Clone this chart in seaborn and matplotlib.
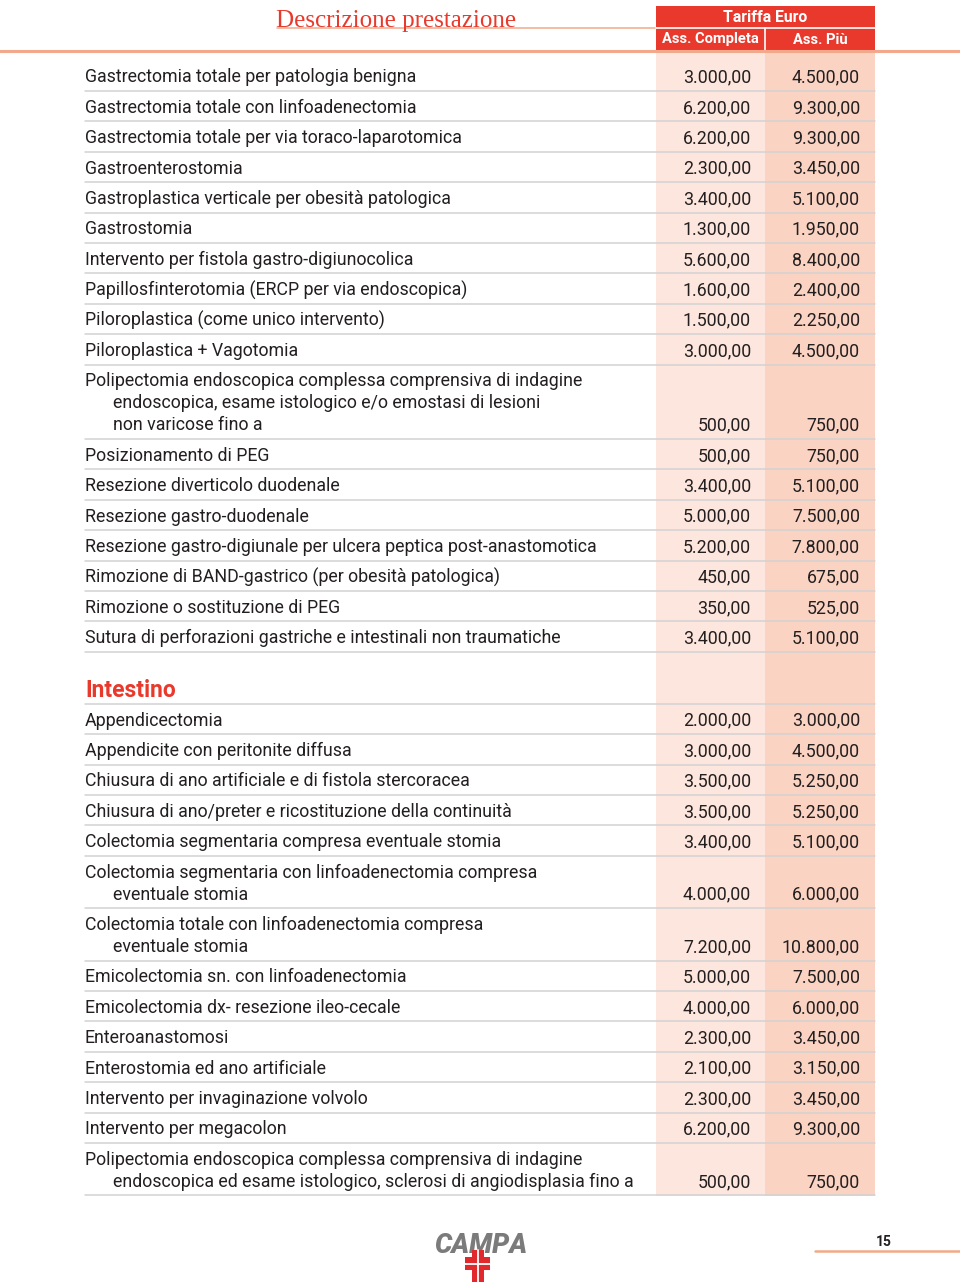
import seaborn as sns
import matplotlib.pyplot as plt
from matplotlib.patches import Rectangle

# ---- data ----
stomaco_desc = [
    "Gastrectomia totale per patologia benigna",
    "Gastrectomia totale con linfoadenectomia",
    "Gastrectomia totale per via toraco-laparotomica",
    "Gastroenterostomia",
    "Gastroplastica verticale per obesità patologica",
    "Gastrostomia",
    "Intervento per fistola gastro-digiunocolica",
    "Papillosfinterotomia (ERCP per via endoscopica)",
    "Piloroplastica (come unico intervento)",
    "Piloroplastica + Vagotomia",
    "Polipectomia endoscopica complessa comprensiva di indagine\n"
    "endoscopica, esame istologico e/o emostasi di lesioni\n"
    "non varicose fino a",
    "Posizionamento di PEG",
    "Resezione diverticolo duodenale",
    "Resezione gastro-duodenale",
    "Resezione gastro-digiunale per ulcera peptica post-anastomotica",
    "Rimozione di BAND-gastrico (per obesità patologica)",
    "Rimozione o sostituzione di PEG",
    "Sutura di perforazioni gastriche e intestinali non traumatiche",
]
stomaco_completa = [3000, 6200, 6200, 2300, 3400, 1300, 5600, 1600, 1500, 3000,
                    500, 500, 3400, 5000, 5200, 450, 350, 3400]
stomaco_piu = [4500, 9300, 9300, 3450, 5100, 1950, 8400, 2400, 2250, 4500,
               750, 750, 5100, 7500, 7800, 675, 525, 5100]

intestino_title = "Intestino"
intestino_desc = [
    "Appendicectomia",
    "Appendicite con peritonite diffusa",
    "Chiusura di ano artificiale e di fistola stercoracea",
    "Chiusura di ano/preter e ricostituzione della continuità",
    "Colectomia segmentaria compresa eventuale stomia",
    "Colectomia segmentaria con linfoadenectomia compresa\neventuale stomia",
    "Colectomia totale con linfoadenectomia compresa\neventuale stomia",
    "Emicolectomia sn. con linfoadenectomia",
    "Emicolectomia dx- resezione ileo-cecale",
    "Enteroanastomosi",
    "Enterostomia ed ano artificiale",
    "Intervento per invaginazione volvolo",
    "Intervento per megacolon",
    "Polipectomia endoscopica complessa comprensiva di indagine\n"
    "endoscopica ed esame istologico, sclerosi di angiodisplasia fino a",
]
intestino_completa = [2000, 3000, 3500, 3500, 3400, 4000, 7200, 5000, 4000,
                      2300, 2100, 2300, 6200, 500]
intestino_piu = [3000, 4500, 5250, 5250, 5100, 6000, 10800, 7500, 6000,
                 3450, 3150, 3450, 9300, 750]

header_title = "Descrizione prestazione"
header_group = "Tariffa Euro"
header_cols = ["Ass. Completa", "Ass. Più"]
page_number = "15"

# ---- style ----
RED = "#e8392c"
SALMON = "#f2a98b"
COL1 = "#fde6dd"
COL2 = "#fbd3c3"
GRID = "#d2d2d2"
TXT = "#231f20"
BODY = "Roboto"
BODY_SIZE = 12.8

sns.set_theme(style="white")
plt.rcParams['font.family'] = [BODY, 'DejaVu Sans']


def euro(v):
    s = f"{v:,.2f}"
    return s.replace(",", "#").replace(".", ",").replace("#", ".")


X_TEXT, X_INDENT = 85, 113
X_C1, X_C2, X_END = 656, 765, 875
PITCH, LINE = 30.4, 22.0


def draw_rows(ax, top, descs, c1, c2):
    y = top
    for d, a, b in zip(descs, c1, c2):
        lines = d.split("\n")
        bottom = y + PITCH + LINE * (len(lines) - 1)
        for i, ln in enumerate(lines):
            base = bottom - 8.5 - LINE * (len(lines) - 1 - i)
            ax.text(X_INDENT if i else X_TEXT, base, ln, fontsize=BODY_SIZE,
                    color=TXT, va="baseline", ha="left")
        ax.text(751, bottom - 8.5, euro(a), fontsize=BODY_SIZE, color=TXT,
                va="baseline", ha="right")
        ax.text(860, bottom - 8.5, euro(b), fontsize=BODY_SIZE, color=TXT,
                va="baseline", ha="right")
        ax.plot([X_TEXT, X_END], [bottom, bottom], color=GRID, lw=1.1, zorder=2)
        y = bottom
    return y


fig = plt.figure(figsize=(9.6, 12.86), dpi=100)
ax = fig.add_axes([0, 0, 1, 1])
ax.set_xlim(0, 960)
ax.set_ylim(1286, 0)
ax.axis("off")

# shaded value columns
ax.add_patch(Rectangle((X_C1, 50), X_C2 - X_C1, 1146, color=COL1, lw=0, zorder=0))
ax.add_patch(Rectangle((X_C2, 50), X_END - X_C2, 1146, color=COL2, lw=0, zorder=0))

# header
ax.add_patch(Rectangle((X_C1, 6), X_END - X_C1, 44, color=RED, lw=0, zorder=1))
ax.plot([X_C1, X_END], [28, 28], color="white", lw=1.2, zorder=2)
ax.plot([X_C2, X_C2], [28, 50], color="white", lw=1.2, zorder=2)
ax.text((X_C1 + X_END) / 2, 17, header_group, color="white", fontsize=11.3,
        fontweight="bold", ha="center", va="center")
ax.text((X_C1 + X_C2) / 2, 39.5, header_cols[0], color="white", fontsize=10.6,
        fontweight="bold", ha="center", va="center")
ax.text((X_C2 + X_END) / 2, 39.5, header_cols[1], color="white", fontsize=10.6,
        fontweight="bold", ha="center", va="center")
ax.plot([0, 960], [50.5, 50.5], color=SALMON, lw=2.2, zorder=3)
ax.plot([277, X_C1], [27.5, 27.5], color=SALMON, lw=1.1, zorder=1)
ax.text(396, 27, header_title, color=RED, fontsize=18, family="Liberation Serif",
        ha="center", va="baseline", zorder=2)

# first block
end = draw_rows(ax, 60.6, stomaco_desc, stomaco_completa, stomaco_piu)

# Intestino section
sec_bottom = end + 52
ax.text(X_TEXT, sec_bottom - 6.5, intestino_title, color=RED, fontsize=16.5,
        fontweight="bold", ha="left", va="baseline")
ax.plot([X_TEXT, X_END], [sec_bottom, sec_bottom], color=GRID, lw=1.1, zorder=2)
draw_rows(ax, sec_bottom, intestino_desc, intestino_completa, intestino_piu)

# footer: logo and page number
ax.text(481, 1253, "CAMPA", color="#7b7b7b", fontsize=19.5, fontweight="heavy",
        style="italic", ha="center", va="baseline", zorder=2)
ax.add_patch(Rectangle((472, 1250), 12, 32, color="#e1282d", lw=0, zorder=3))
ax.add_patch(Rectangle((465, 1257), 25, 13, color="#e1282d", lw=0, zorder=3))
ax.plot([478, 478], [1250, 1282], color="white", lw=1.3, zorder=4)
ax.plot([465, 490], [1263.5, 1263.5], color="white", lw=1.3, zorder=4)
ax.text(876, 1246, page_number, color=TXT, fontsize=10, fontweight="bold",
        ha="left", va="baseline")
ax.plot([815, 960], [1250.5, 1250.5], color=SALMON, lw=1.8)

fig.savefig("out.png", dpi=100)
